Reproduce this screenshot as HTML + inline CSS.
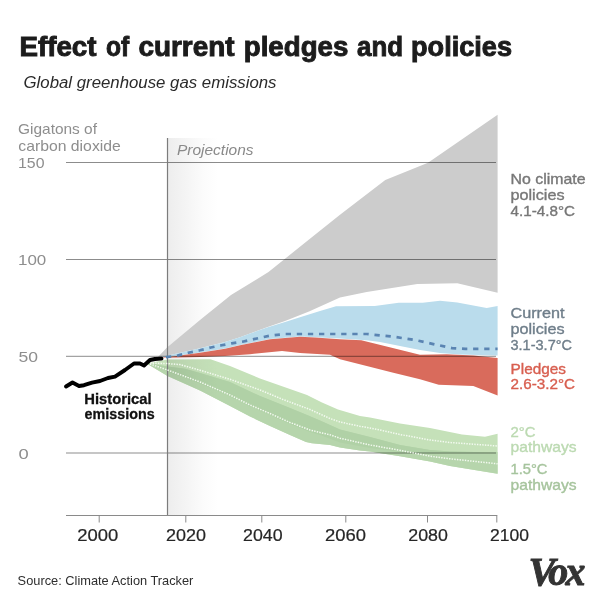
<!DOCTYPE html>
<html lang="en">
<head>
<meta charset="utf-8">
<title>Effect of current pledges and policies</title>
<style>
  html, body { margin: 0; padding: 0; background: #ffffff; }
  body { width: 600px; height: 600px; overflow: hidden; position: relative; }
  svg { position: absolute; left: 0; top: 0; display: block; }
  text { font-family: "Liberation Sans", sans-serif; }
  .title { font-weight: bold; font-size: 27.5px; fill: #1c1c1c; stroke: #1c1c1c; stroke-width: 0.95px; }
  .sub { font-style: italic; font-size: 17.2px; fill: #2a2a2a; }
  .ylab { font-size: 14.6px; fill: #8e8e8e; }
  .ynum { font-size: 15.3px; fill: #8e8e8e; }
  .xlab { font-size: 15.6px; fill: #262626; stroke: #262626; stroke-width: 0.2px; }
  .proj { font-style: italic; font-size: 14.8px; fill: #8a8a8a; }
  .hist { font-weight: bold; font-size: 15px; fill: #111111; stroke: #111111; stroke-width: 0.3px; }
  .lab { font-size: 14.2px; stroke-width: 0.35px; }
  .c1 { fill: #777777; stroke: #777777; }
  .c2 { fill: #6f7e8a; stroke: #6f7e8a; }
  .c3 { fill: #d85f50; stroke: #d85f50; }
  .c4 { fill: #bcdab2; stroke: #bcdab2; }
  .c5 { fill: #a6c49d; stroke: #a6c49d; }
  .src { font-size: 12.7px; fill: #2e2e2e; }
  .vox { font-family: "Liberation Serif", serif; font-weight: bold; font-style: italic; font-size: 40px; fill: #333333; stroke: #333333; stroke-width: 0.9px; letter-spacing: -2.6px; }
  .mul { mix-blend-mode: multiply; }
</style>
</head>
<body>
<svg width="600" height="600" viewBox="0 0 600 600">
  <defs>
    <linearGradient id="fade" x1="0" y1="0" x2="1" y2="0">
      <stop offset="0" stop-color="#ededed"/>
      <stop offset="0.35" stop-color="#f4f4f4"/>
      <stop offset="0.7" stop-color="#fbfbfb"/>
      <stop offset="1" stop-color="#ffffff"/>
    </linearGradient>
    <linearGradient id="fade2" gradientUnits="userSpaceOnUse" x1="167.5" y1="0" x2="217.5" y2="0">
      <stop offset="0" stop-color="#ededed"/>
      <stop offset="0.35" stop-color="#f4f4f4"/>
      <stop offset="0.7" stop-color="#fbfbfb"/>
      <stop offset="1" stop-color="#ffffff"/>
    </linearGradient>
  </defs>
  <rect x="0" y="0" width="600" height="600" fill="#ffffff"/>

  <!-- projection fade -->
  <rect x="167.5" y="138" width="50" height="377" fill="url(#fade)"/>

  <!-- scenario bands -->
  <g>
    <polygon fill="#cccccc" points="157.5,357.5 167,347.5 200,320 231,295 268.5,272 309,239.5 340,214.7 385.3,180 428,162.7 497.6,114.7 497.6,292.7 457.3,283.3 417.3,283.9 366.7,291.9 340,297.5 309,311.5 285,321 267,327.3 250,333.5 240,337.3 225,342 200,348.3 167,355.8 157.5,357.5"/>
    <polygon fill="#badcec" points="159,357.3 167,355.8 200,348.3 225,342 240,337.3 250,333.5 267,327.5 285,322 300,317.3 320,311 336,306.3 374.7,306 398.7,302.8 422.7,302.8 440,300.7 457.3,302.5 486.7,307.9 497.6,306 497.6,355.6 460,354.5 440,353 420,350 400,346 380,342 366.7,340.2 340,338.6 315,337.2 300,336.5 270,339 250,343 240,345 225,348.6 200,352.5 167,357 159,357.6"/>
    <polygon fill="#d96b5c" points="160,357.8 167,357.2 200,352.7 225,348.8 240,345.2 250,343.2 270,339.2 300,336.7 315,337.4 340,339.3 361.3,340.3 420,354.8 446.7,354.2 473.3,355.5 497.6,358 497.6,395.5 473.3,386 438.7,384.7 420,379.3 393.3,372.7 366.7,366 340,359.3 330,354.8 300,353 282,351 250,354.2 225,356 200,356.9 167,357.8 160,358.2"/>
  </g>
  <g>
    <polygon fill="#c5e1b9" points="147.5,363 150.5,362.7 167.5,359.4 210.5,359.3 230,366 260,378.5 307,395 322,402.5 338,409.5 360,416 370,417.5 380,419.5 400,423.5 430,428 462,434.5 485,436.8 497.6,433.8 497.6,473.8 450,466 430,461.5 400,456.2 370,451.5 360,450.5 340,447.5 330,445 312,443.2 306,442 290,435 270,426 250,416.5 230,406 200,390.5 167.5,376 147.5,364"/>
    <polygon fill="#b6d5ac" points="147.5,363.3 167.5,366.5 185,368.8 200,373 230,382 260,396 290,408 307,415 320,420.5 340,429.5 370,437 400,445 430,450 450,451.5 497.6,452.6 497.6,473.8 450,466 430,461.5 400,456.2 370,451.5 360,450.5 340,447.5 330,445 312,443.2 306,442 290,435 270,426 250,416.5 230,406 200,390.5 167.5,376 147.5,364"/>
    <polygon fill="#b0d1a6" points="147.5,363.3 167.5,366.5 185,368.8 200,373 230,382 260,396 290,408 307,415 320,420.5 340,429.5 370,437 400,445 430,450 450,451.5 497.6,452.6 497.6,453 450,453.6 430,454 400,451.8 370,448 340,442.5 320,435 310,432 290,424 270,415 250,406.5 230,396.5 200,383.5 167.5,371.5 147.5,363.6"/>
    <polygon class="mul" fill="url(#fade2)" points="167.5,359.4 210.5,359.3 217.5,361.71 217.5,399.54 200,390.5 167.5,376"/>
  </g>

  <!-- grid lines -->
  <g stroke="#000000" stroke-opacity="0.45" stroke-width="1">
    <line x1="66" y1="162.5" x2="496" y2="162.5"/>
    <line x1="66" y1="259.5" x2="496" y2="259.5"/>
    <line x1="66" y1="356.3" x2="496" y2="356.3"/>
    <line x1="66" y1="453" x2="496" y2="453"/>
  </g>
  <line x1="167.5" y1="138" x2="167.5" y2="515.5" stroke="#7c7c7c" stroke-width="1.2"/>

  <!-- medians -->
  <polyline fill="none" stroke="#f4faf1" stroke-width="1.5" stroke-dasharray="1.4 1.25" points="150,363 167.5,363.6 180,364.6 200,370.2 230,379.3 260,390 283,399.5 310,409.5 330,418.5 340,422 360,426.3 370,428 380,430 400,434.5 430,440 450,442.5 497.6,446"/>
  <polyline fill="none" stroke="#f4faf1" stroke-width="1.5" stroke-dasharray="1.4 1.25" points="150,364 155,365.7 167.5,370 200,382 230,395 250,405 270,413.5 290,422.5 310,430 320,432.5 330,434.8 340,438.2 370,445 400,450.3 430,456.2 450,458.8 497.6,463.8"/>
  <polyline fill="none" stroke="#5a84b2" stroke-width="2.7" stroke-dasharray="5.3 5.8" stroke-dashoffset="-4" points="162,357.6 176.7,355.8 188.3,352.8 200,350.3 210.8,347.5 221.7,345.3 231.7,343.3 242.5,341.7 270,335.6 285,334 340,334 366.7,334 393.3,336.7 414.7,339.9 433.3,344.1 452,348.1 465.3,348.9 497.6,348.9"/>

  <!-- historical -->
  <polyline fill="none" stroke="#000000" stroke-width="3.9" stroke-linejoin="round" stroke-linecap="round" points="66,386.5 72.5,382.5 79,386 84,385.2 92,382.6 100,381 108,378 115,376.6 125,370 134,363.5 140,363.5 144,365.5 150,360 155,359 161.5,358.6"/>

  <!-- x axis -->
  <g stroke="#8a8a8a" stroke-width="1" fill="none">
    <line x1="66" y1="515.5" x2="497.3" y2="515.5"/>
    <line x1="99.2" y1="515.5" x2="99.2" y2="522.5"/>
    <line x1="185.8" y1="515.5" x2="185.8" y2="522.5"/>
    <line x1="261.8" y1="515.5" x2="261.8" y2="522.5"/>
    <line x1="345.8" y1="515.5" x2="345.8" y2="522.5"/>
    <line x1="427.5" y1="515.5" x2="427.5" y2="522.5"/>
    <line x1="496.8" y1="515.5" x2="496.8" y2="522.5"/>
  </g>

  <text class="title" y="56"><tspan x="19.5" textLength="77" lengthAdjust="spacingAndGlyphs">Effect</tspan> <tspan x="105.9" textLength="23.2" lengthAdjust="spacingAndGlyphs">of</tspan> <tspan x="138.5" textLength="96" lengthAdjust="spacingAndGlyphs">current</tspan> <tspan x="243.8" textLength="104.5" lengthAdjust="spacingAndGlyphs">pledges</tspan> <tspan x="357" textLength="46" lengthAdjust="spacingAndGlyphs">and</tspan> <tspan x="411" textLength="101" lengthAdjust="spacingAndGlyphs">policies</tspan></text>
  <text class="sub" x="23.5" y="88.2" textLength="253" lengthAdjust="spacingAndGlyphs">Global greenhouse gas emissions</text>
  <text class="xlab" x="77.3" y="540.8" textLength="41" lengthAdjust="spacingAndGlyphs">2000</text>
  <text class="xlab" x="166" y="540.8" textLength="40" lengthAdjust="spacingAndGlyphs">2020</text>
  <text class="xlab" x="243" y="540.8" textLength="39.6" lengthAdjust="spacingAndGlyphs">2040</text>
  <text class="xlab" x="325" y="540.8" textLength="41" lengthAdjust="spacingAndGlyphs">2060</text>
  <text class="xlab" x="408.3" y="540.8" textLength="39.6" lengthAdjust="spacingAndGlyphs">2080</text>
  <text class="xlab" x="490" y="540.8" textLength="39" lengthAdjust="spacingAndGlyphs">2100</text>
  <text class="ylab" x="18" y="133.6" textLength="79" lengthAdjust="spacingAndGlyphs">Gigatons of</text>
  <text class="ylab" x="18.3" y="150.8" textLength="102.5" lengthAdjust="spacingAndGlyphs">carbon dioxide</text>
  <text class="ynum" x="18" y="168" textLength="26.5" lengthAdjust="spacingAndGlyphs">150</text>
  <text class="ynum" x="18" y="265.2" textLength="28.3" lengthAdjust="spacingAndGlyphs">100</text>
  <text class="ynum" x="18.5" y="362.1" textLength="19.5" lengthAdjust="spacingAndGlyphs">50</text>
  <text class="ynum" x="18.5" y="458.9" textLength="10.2" lengthAdjust="spacingAndGlyphs">0</text>
  <text class="proj" x="177" y="155" textLength="76.5" lengthAdjust="spacingAndGlyphs">Projections</text>
  <text class="hist" x="84.3" y="404" textLength="67.3" lengthAdjust="spacingAndGlyphs">Historical</text>
  <text class="hist" x="84.6" y="419.3" textLength="70" lengthAdjust="spacingAndGlyphs">emissions</text>
  <text class="lab c1" x="510.5" y="184" textLength="75" lengthAdjust="spacingAndGlyphs">No climate</text>
  <text class="lab c1" x="510.5" y="200" textLength="54" lengthAdjust="spacingAndGlyphs">policies</text>
  <text class="lab c1" x="510.5" y="215.7" textLength="64.5" lengthAdjust="spacingAndGlyphs">4.1-4.8°C</text>
  <text class="lab c2" x="510.5" y="318" textLength="54" lengthAdjust="spacingAndGlyphs">Current</text>
  <text class="lab c2" x="510.5" y="333.6" textLength="54" lengthAdjust="spacingAndGlyphs">policies</text>
  <text class="lab c2" x="510.5" y="349.6" textLength="61.5" lengthAdjust="spacingAndGlyphs">3.1-3.7°C</text>
  <text class="lab c3" x="510.5" y="373.5" textLength="55.5" lengthAdjust="spacingAndGlyphs">Pledges</text>
  <text class="lab c3" x="510.5" y="389" textLength="64.5" lengthAdjust="spacingAndGlyphs">2.6-3.2°C</text>
  <text class="lab c4" x="510.5" y="436.7" textLength="25" lengthAdjust="spacingAndGlyphs">2°C</text>
  <text class="lab c4" x="510.5" y="452" textLength="66" lengthAdjust="spacingAndGlyphs">pathways</text>
  <text class="lab c5" x="510.5" y="474.3" textLength="37" lengthAdjust="spacingAndGlyphs">1.5°C</text>
  <text class="lab c5" x="510.5" y="490" textLength="66" lengthAdjust="spacingAndGlyphs">pathways</text>
  <text class="src" x="17.6" y="585.2" textLength="175.8" lengthAdjust="spacingAndGlyphs">Source: Climate Action Tracker</text>
  <text class="vox" x="528.5" y="585.2">Vox</text>
</svg>
</body>
</html>
